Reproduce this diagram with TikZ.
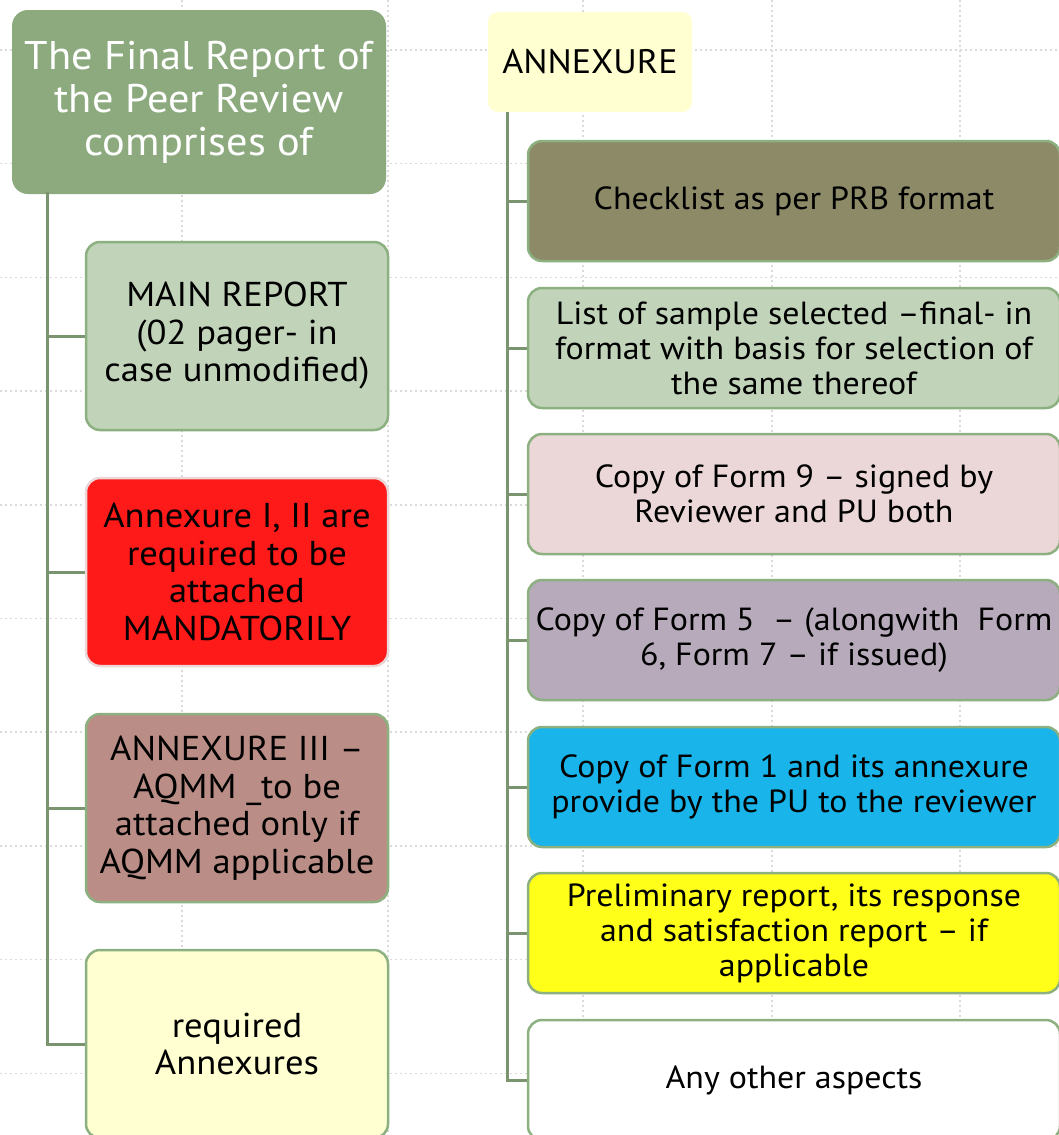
\documentclass[tikz,border=0pt]{standalone}
\usepackage{fontspec}
\setmainfont{PT Sans}[FakeStretch=1.06]
\definecolor{titlegreen}{HTML}{8CAA7E}
\definecolor{conngreen}{HTML}{7A9470}
\definecolor{bordergreen}{HTML}{8DB080}
\definecolor{lightgreen}{HTML}{C1D4BA}
\definecolor{brightred}{HTML}{FF1A1A}
\definecolor{rosy}{HTML}{BA8E86}
\definecolor{paleyellow}{HTML}{FFFFD1}
\definecolor{olive}{HTML}{8C8A67}
\definecolor{pinklight}{HTML}{EBD7D7}
\definecolor{lavender}{HTML}{B7AABB}
\definecolor{skyblue}{HTML}{18B4EA}
\definecolor{brightyellow}{HTML}{FFFF1A}
\definecolor{gridgray}{HTML}{DADADA}
\begin{document}
\begin{tikzpicture}[x=1pt,y=-1pt,
  gridline/.style={draw=gridgray, line width=1.5pt, dash pattern=on 2pt off 3pt},
  conn/.style={draw=conngreen, line width=3pt},
  box/.style={rounded corners=14pt, draw=bordergreen, line width=2.5pt, align=center, inner sep=0pt, text=black},
  leftbox/.style={box, minimum width=302pt, minimum height=188pt, font=\fontsize{34.5}{37.5}\selectfont},
  rightbox/.style={box, minimum width=532pt, minimum height=120pt, font=\fontsize{32}{35}\selectfont},
  titlebox/.style={rounded corners=16pt, fill=titlegreen, text=white, align=center, inner sep=0pt, minimum width=374pt, minimum height=184pt, font=\fontsize{40}{43}\selectfont},
  headbox/.style={rounded corners=10pt, fill=paleyellow, text=black, inner sep=0pt, minimum width=204pt, minimum height=100pt, font=\fontsize{34}{36}\selectfont}
]
\useasboundingbox (0,0) rectangle (1058,1135);
\fill[white] (0,0) rectangle (1058,1135);
% background grid
\foreach \gy in {50,163.7,277.4,391.1,504.8,618.5,732.2,845.9,959.6,1073.3}
  \draw[gridline] (0,\gy) -- (1058,\gy);
\foreach \gx in {182,388,583,772,960}
  \draw[gridline] (\gx,0) -- (\gx,1135);

% left column
\node[titlebox] (t) at (199,102) {The Final Report of\\the Peer Review\\comprises of};
\node[leftbox, fill=lightgreen] (l1) at (237,336) {MAIN REPORT\\(02 pager- in\\case unmodified)};
\node[leftbox, fill=brightred, draw=pinklight] (l2) at (237,572) {Annexure I, II are\\required to be\\attached\\MANDATORILY};
\node[leftbox, fill=rosy] (l3) at (237,808) {ANNEXURE III –\\AQMM \_to be\\attached only if\\AQMM applicable};
\node[leftbox, fill=paleyellow] (l4) at (237,1044) {required\\Annexures};

\coordinate (lt) at (47,192);
\draw[conn] (lt) |- (l4.west);
\draw[conn] (lt |- l1.west) -- (l1.west);
\draw[conn] (lt |- l2.west) -- (l2.west);
\draw[conn] (lt |- l3.west) -- (l3.west);

% right column
\node[headbox] (a) at (590,62) {ANNEXURE};
\node[rightbox, fill=olive] (r1) at (794,201) {Checklist as per PRB format};
\node[rightbox, fill=lightgreen] (r2) at (794,348) {List of sample selected –final- in\\format with basis for selection of\\the same thereof};
\node[rightbox, fill=pinklight] (r3) at (794,494) {Copy of Form 9 – signed by\\Reviewer and PU both};
\node[rightbox, fill=lavender] (r4) at (794,640) {Copy of Form 5 \ – (alongwith \ Form\\6, Form 7 – if issued)};
\node[rightbox, fill=skyblue] (r5) at (794,787) {Copy of Form 1 and its annexure\\provide by the PU to the reviewer};
\node[rightbox, fill=brightyellow] (r6) at (794,933) {Preliminary report, its response\\and satisfaction report – if\\applicable};
\node[rightbox, fill=white] (r7) at (794,1080) {Any other aspects};

\coordinate (rt) at (507,112);
\draw[conn] (rt) |- (r7.west);
\foreach \n in {r1,r2,r3,r4,r5,r6}
  \draw[conn] (rt |- \n.west) -- (\n.west);
\end{tikzpicture}
\end{document}
